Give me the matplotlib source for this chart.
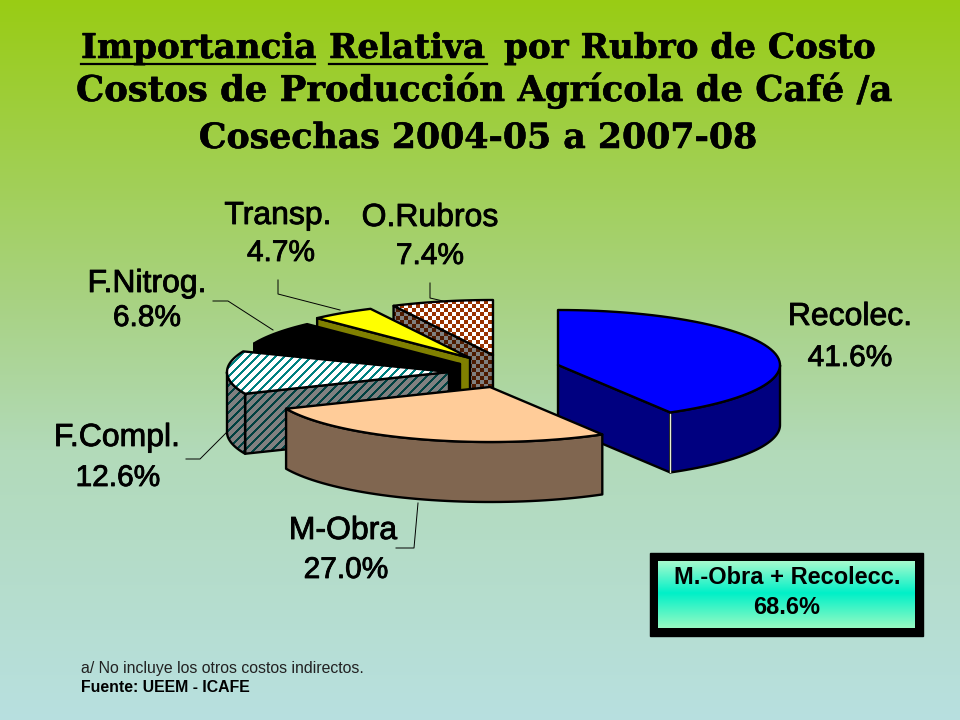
# Pie chart of relative cost importance, drawn as a tilted exploded 3D pie
import numpy as np
import matplotlib
matplotlib.use('Agg')
import matplotlib.pyplot as plt
import matplotlib.patheffects as pe
from matplotlib.patches import Polygon

# Data
categories = ['Recolec.', 'M-Obra', 'F.Compl.', 'F.Nitrog.', 'Transp.', 'O.Rubros']
shares = [41.6, 27.0, 12.6, 6.8, 4.7, 7.4]
summary_label = 'M.-Obra + Recolecc.'
summary_value = 68.6

title_line2 = 'Costos de Producción Agrícola de Café /a'
title_line3 = 'Cosechas 2004-05 a 2007-08'
note_line = 'a/ No incluye los otros costos indirectos.'
source_line = 'Fuente: UEEM - ICAFE'

# Layout of the exploded slices, in pixels
apex = [(558, 365), (490, 387), (449, 372), (460, 364), (470, 358), (493, 355)]
rx, ry, depth = 222, 55, 60
draw_order = [5, 4, 3, 2, 0, 1]
top_colors = ['#0000FF', '#FFCC99', 'stripe_top', '#000000', '#FFFF00', 'check_top']
wall_colors = ['#000080', '#806650', 'stripe_wall', '#000000', '#808000', 'check_wall']
label_xy = [((850, 317), (850, 358)), ((343, 531), (346, 570)), ((117, 438), (118, 478)),
            ((147, 284), (147, 318)), ((278, 216), (281, 253)), ((430, 218), (430, 256))]
leaders = [[(418, 503), (414, 548), (396, 548)],
           [(186, 459), (200, 459), (227, 432)],
           [(213, 301), (228, 301), (273, 330)],
           [(278, 280), (278, 294), (340, 310)],
           [(430, 283), (430, 298), (443, 301)]]


def gradient(ys, stops_y, stops_rgb):
    return np.stack([np.interp(ys, stops_y, [c[i] for c in stops_rgb]) for i in range(3)], axis=-1) / 255


def texture(name):
    yy, xx = np.mgrid[0:720, 0:960]
    if name.startswith('stripe'):
        mask = (xx + yy) % 9 < 3
        a, b = ((0, 128, 128), (255, 255, 255)) if name == 'stripe_top' else ((0, 64, 64), (128, 128, 128))
    else:
        mask = (xx // 4 + yy // 4) % 2 == 0
        a, b = ((153, 51, 0), (255, 255, 255)) if name == 'check_top' else ((77, 26, 0), (128, 128, 128))
    img = np.zeros((720, 960, 3))
    img[mask] = np.array(a) / 255
    img[~mask] = np.array(b) / 255
    return img


fig = plt.figure(figsize=(9.6, 7.2), dpi=100)
ax = fig.add_axes([0, 0, 1, 1])

# Background gradient
bg_y = np.arange(720)
bg = gradient(bg_y, [0, 150, 300, 450, 720],
              [(153, 204, 20), (160, 207, 75), (168, 210, 130), (178, 218, 185), (184, 224, 224)])
ax.imshow(bg[:, None, :], extent=(0, 960, 720, 0), aspect='auto', zorder=0)

z = [1]


def shape(pts, color):
    # Filled outline, with an optional texture clipped to it
    z[0] += 2
    if color in ('stripe_top', 'stripe_wall', 'check_top', 'check_wall'):
        patch = Polygon(pts, closed=True, facecolor='none', edgecolor='black', lw=1.7,
                        joinstyle='round', zorder=z[0] + 1)
        ax.add_patch(patch)
        im = ax.imshow(texture(color), extent=(0, 960, 720, 0), aspect='auto',
                       zorder=z[0], interpolation='nearest')
        im.set_clip_path(patch)
    else:
        ax.add_patch(Polygon(pts, closed=True, facecolor=color, edgecolor='black', lw=1.7,
                             joinstyle='round', zorder=z[0]))


def rim(center, angles):
    t = np.radians(angles)
    return np.column_stack([center[0] + rx * np.cos(t), center[1] - ry * np.sin(t)])


# Slices run clockwise from the top
total = sum(shares)
ends = 90 - 360 * np.cumsum(shares) / total
starts = np.concatenate([[90], ends[:-1]])

for i in draw_order:
    a0, a1 = starts[i], ends[i]
    c = np.array(apex[i], dtype=float)
    # Radial walls that face the viewer
    for ang, normal in ((a0, a0 + 90), (a1, a1 - 90)):
        if np.sin(np.radians(normal)) < -1e-3:
            p = rim(c, [ang])[0]
            shape([c, p, p + (0, depth), c + (0, depth)], wall_colors[i])
    # Outer wall along the front of the rim
    lo, hi = max(a1, -180), min(a0, 0)
    if hi > lo:
        arc = rim(c, np.linspace(hi, lo, 50))
        shape(np.vstack([arc, arc[::-1] + (0, depth)]), wall_colors[i])
    # Top face
    shape(np.vstack([[c], rim(c, np.linspace(a0, a1, 60))]), top_colors[i])

# Seam between the two walls of the big slice
seam = rim(np.array(apex[0], dtype=float), [ends[0]])[0]
z[0] += 2
ax.plot([seam[0], seam[0]], [seam[1] + 2, seam[1] + depth], color='#E8F0D0', lw=1, zorder=z[0])

# Leader lines
for line in leaders:
    xs, ys = zip(*line)
    ax.plot(xs, ys, color='black', lw=0.7, zorder=z[0])

# Slice labels
heavy = [pe.withStroke(linewidth=0.6, foreground='black')]
for name, val, (p1, p2) in zip(categories, shares, label_xy):
    ax.text(p1[0], p1[1], name, ha='center', va='center', fontsize=23,
            family='Liberation Sans', color='black', path_effects=heavy, zorder=z[0] + 1)
    ax.text(p2[0], p2[1], f'{val:.1f}%', ha='center', va='center', fontsize=21.5,
            family='Liberation Sans', color='black', path_effects=heavy, zorder=z[0] + 1)

# Title, first line is split so two words can be underlined
title_font = dict(family='DejaVu Serif', weight='bold', color='black', va='baseline',
                  path_effects=[pe.withStroke(linewidth=0.4, foreground='black')])
ax.text(81, 58, 'Importancia', ha='left', fontsize=24.6, **title_font)
ax.text(329, 58, 'Relativa', ha='left', fontsize=24.6, **title_font)
ax.text(875, 58, 'por Rubro de Costo', ha='right', fontsize=24.6, **title_font)
ax.plot([81, 315], [63.5, 63.5], color='black', lw=1.6)
ax.plot([329, 487], [63.5, 63.5], color='black', lw=1.6)
ax.text(485, 101, title_line2, ha='center', fontsize=25.5, **title_font)
ax.text(478, 148, title_line3, ha='center', fontsize=25, **title_font)

# Summary box
ax.fill([650, 923, 923, 650], [553, 553, 636, 636], color='black', zorder=z[0])
box_y = np.arange(561, 629)
box = gradient(box_y, [561, 593, 628], [(165, 250, 205), (0, 240, 200), (150, 250, 195)])
ax.imshow(box[:, None, :], extent=(658, 915, 628, 561), aspect='auto', zorder=z[0] + 1)
ax.text(787, 578, summary_label, ha='center', va='center', fontsize=17, weight='bold',
        family='Liberation Sans', zorder=z[0] + 2)
ax.text(787, 607, f'{summary_value:.1f}%', ha='center', va='center', fontsize=17, weight='bold',
        family='Liberation Sans', zorder=z[0] + 2)

# Notes
ax.text(81, 668, note_line, ha='left', va='center', fontsize=11.4, family='Liberation Sans', color='#222222')
ax.text(81, 687, source_line, ha='left', va='center', fontsize=11.4, weight='bold', family='Liberation Sans')

ax.set_xlim(0, 960)
ax.set_ylim(720, 0)
ax.axis('off')
fig.savefig('out.png', dpi=100)
